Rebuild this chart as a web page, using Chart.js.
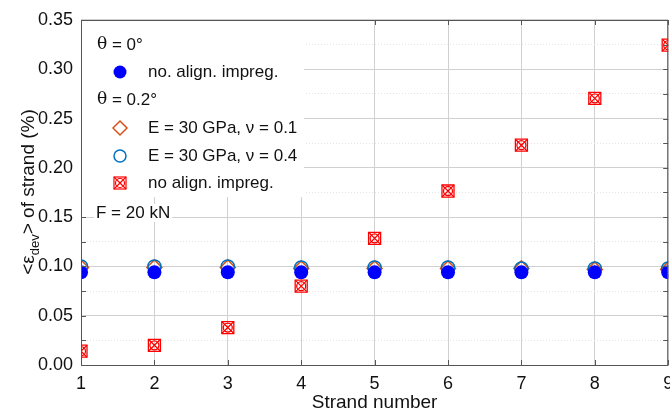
<!DOCTYPE html>
<html>
<head>
<meta charset="utf-8">
<script src="https://cdn.jsdelivr.net/npm/chart.js@4"></script>
<style>html,body{margin:0;background:#fff;overflow:hidden}</style>
</head>
<body>
<!-- slightly wider than the window: the reference crops the right edge -->
<canvas id="chart" width="678" height="414"></canvas>
<script>
// data
const strands = [1, 2, 3, 4, 5, 6, 7, 8, 9];
const noAlignTheta0 = [0.094, 0.094, 0.094, 0.094, 0.094, 0.094, 0.094, 0.094, 0.094];
const e30nu01 = [0.099, 0.099, 0.099, 0.098, 0.098, 0.098, 0.098, 0.097, 0.097];
const e30nu04 = [0.1, 0.1, 0.1, 0.099, 0.099, 0.099, 0.098, 0.098, 0.098];
const noAlignTheta02 = [0.014, 0.020, 0.038, 0.080, 0.1285, 0.1765, 0.223, 0.2705, 0.3245];
const xLabels = ['1', '2', '3', '4', '5', '6', '7', '8', '9'];
const yLabels = ['0.00', '0.05', '0.10', '0.15', '0.20', '0.25', '0.30', '0.35'];

const FONT = '"Liberation Sans", Arial, sans-serif';
const SERIF = '"DejaVu Serif", "Liberation Serif", serif';
const BLUE = '#0000ff';
const NU04 = '#0072bd';
const NU01 = '#d95319';
const RED = '#ff0000';

function pts(ys) {
  return strands.map((x, i) => ({x: x, y: ys[i]}));
}

// minor ticks every 0.025, labels only on every second one
let yTickVals = [];
for (let i = 0; i <= 14; i++) yTickVals.push(i * 0.025);

function isMajor(ctx) {
  return !ctx.tick || Math.round(ctx.tick.value * 1000) % 50 === 0;
}

function thetaLine(c, rest, x, y) {
  c.font = '17px ' + SERIF;
  c.fillText('\u03b8', x, y);
  const w = c.measureText('\u03b8').width;
  c.font = '17px ' + FONT;
  c.fillText(rest, x + w, y);
}

const frame = {
  id: 'frame',
  afterDraw(chart) {
    const c = chart.ctx;
    const a = chart.chartArea;
    const xs = chart.scales.x, ys = chart.scales.y;
    c.save();
    c.strokeStyle = '#555';
    c.lineWidth = 1;
    c.strokeRect(a.left + 0.5, a.top + 0.5, a.right - a.left - 1, a.bottom - a.top);
    // inward ticks
    c.beginPath();
    xs.ticks.forEach(t => {
      const px = Math.round(xs.getPixelForValue(t.value)) + 0.5;
      c.moveTo(px, a.top); c.lineTo(px, a.top + 5);
      c.moveTo(px, a.bottom); c.lineTo(px, a.bottom - 5);
    });
    ys.ticks.forEach(t => {
      const py = Math.round(ys.getPixelForValue(t.value)) + 0.5;
      c.moveTo(a.right, py); c.lineTo(a.right - 5, py);
      c.moveTo(a.left, py); c.lineTo(a.left + 5, py);
    });
    c.stroke();

    // legend box
    c.fillStyle = '#fff';
    c.fillRect(a.left + 1, a.top + 1, 222, 176);
    c.fillStyle = '#111';
    c.textBaseline = 'middle';
    c.textAlign = 'left';
    const mx = 120, tx = 148;
    thetaLine(c, ' = 0\u00b0', 97, 45);
    c.font = '17px ' + FONT;
    c.fillText('no. align. impreg.', tx, 72);
    thetaLine(c, ' = 0.2\u00b0', 97, 100);
    c.font = '17px ' + FONT;
    c.fillText('E = 30 GPa, \u03bd = 0.1', tx, 128);
    c.fillText('E = 30 GPa, \u03bd = 0.4', tx, 156);
    c.fillText('no align. impreg.', tx, 183);
    // legend markers
    c.fillStyle = BLUE;
    c.beginPath(); c.arc(mx, 72, 6.5, 0, Math.PI * 2); c.fill();
    c.lineWidth = 1.5;
    c.strokeStyle = NU01;
    c.beginPath();
    c.moveTo(mx, 121); c.lineTo(mx + 7, 128); c.lineTo(mx, 135); c.lineTo(mx - 7, 128); c.closePath();
    c.stroke();
    c.strokeStyle = NU04;
    c.beginPath(); c.arc(mx, 156, 6, 0, Math.PI * 2); c.stroke();
    c.strokeStyle = RED;
    c.lineWidth = 1.2;
    c.strokeRect(mx - 6, 177, 12, 12);
    c.beginPath(); c.arc(mx, 183, 4.5, 0, Math.PI * 2); c.stroke();
    c.beginPath();
    c.moveTo(mx - 6, 177); c.lineTo(mx + 6, 189);
    c.moveTo(mx + 6, 177); c.lineTo(mx - 6, 189);
    c.stroke();

    // F label
    c.font = '17px ' + FONT;
    const fw = c.measureText('F = 20 kN').width;
    c.fillStyle = '#fff';
    c.fillRect(94, 204, fw + 4, 18);
    c.fillStyle = '#111';
    c.fillText('F = 20 kN', 96, 213);

    // y axis title with subscript
    c.translate(27, 192);
    c.rotate(-Math.PI / 2);
    const big = '19px ' + FONT, small = '13px ' + FONT;
    c.font = big;
    const w1 = c.measureText('<\u03b5').width;
    const w3 = c.measureText('> of strand (%)').width;
    c.font = small;
    const w2 = c.measureText('dev').width;
    let x0 = -(w1 + w2 + w3) / 2;
    c.fillStyle = '#111';
    c.textBaseline = 'alphabetic';
    c.font = big;
    c.fillText('<\u03b5', x0, 7);
    c.font = small;
    c.fillText('dev', x0 + w1, 12);
    c.font = big;
    c.fillText('> of strand (%)', x0 + w1 + w2, 7);
    c.restore();
  }
};

function scatterSet(data, style, radius, color, fill, width, order) {
  return {
    data: pts(data),
    pointStyle: style,
    pointRadius: radius,
    pointBorderColor: color,
    pointBackgroundColor: fill,
    pointBorderWidth: width,
    showLine: false,
    clip: 0,
    order: order
  };
}

new Chart(document.getElementById('chart'), {
  type: 'scatter',
  data: {
    datasets: [
      scatterSet(noAlignTheta0, 'circle', 7, BLUE, BLUE, 0, 0),
      scatterSet(e30nu01, 'rectRot', 7.5, NU01, 'rgba(0,0,0,0)', 1.5, 2),
      scatterSet(e30nu04, 'circle', 6.5, NU04, 'rgba(0,0,0,0)', 1.5, 1),
      scatterSet(noAlignTheta02, 'rect', 8.5, RED, 'rgba(0,0,0,0)', 1.3, 3),
      scatterSet(noAlignTheta02, 'circle', 4.5, RED, 'rgba(0,0,0,0)', 1.3, 3),
      scatterSet(noAlignTheta02, 'crossRot', 8.5, RED, 'rgba(0,0,0,0)', 1.3, 3)
    ]
  },
  options: {
    responsive: false,
    animation: false,
    layout: {padding: {top: 20, right: 2, left: 0, bottom: 0}},
    plugins: {legend: {display: false}, tooltip: {enabled: false}},
    scales: {
      x: {
        type: 'linear',
        min: 1,
        max: 9,
        afterBuildTicks: s => { s.ticks = strands.map(v => ({value: v})); },
        grid: {color: '#d0d0d0', drawTicks: false},
        border: {display: false},
        ticks: {
          padding: 8,
          color: '#111',
          font: {family: FONT, size: 18},
          callback: (v, i) => xLabels[i]
        },
        title: {
          display: true,
          text: 'Strand number',
          color: '#111',
          font: {family: FONT, size: 19},
          padding: {top: 0, bottom: 0}
        },
        afterFit: s => { s.height = 49; s.paddingLeft = 0; s.paddingRight = 0; }
      },
      y: {
        min: 0,
        max: 0.35,
        afterBuildTicks: s => { s.ticks = yTickVals.map(v => ({value: v})); },
        grid: {
          drawTicks: false,
          color: ctx => isMajor(ctx) ? '#d0d0d0' : '#e4e4e4'
        },
        border: {
          display: false,
          dash: ctx => isMajor(ctx) ? [] : [1, 2]
        },
        ticks: {
          padding: 8,
          color: '#111',
          font: {family: FONT, size: 18},
          callback: (v, i) => i % 2 === 0 ? yLabels[i / 2] : ''
        },
        afterFit: s => { s.width = 81; s.paddingTop = 0; s.paddingBottom = 0; }
      }
    }
  },
  plugins: [frame]
});
</script>
</body>
</html>
